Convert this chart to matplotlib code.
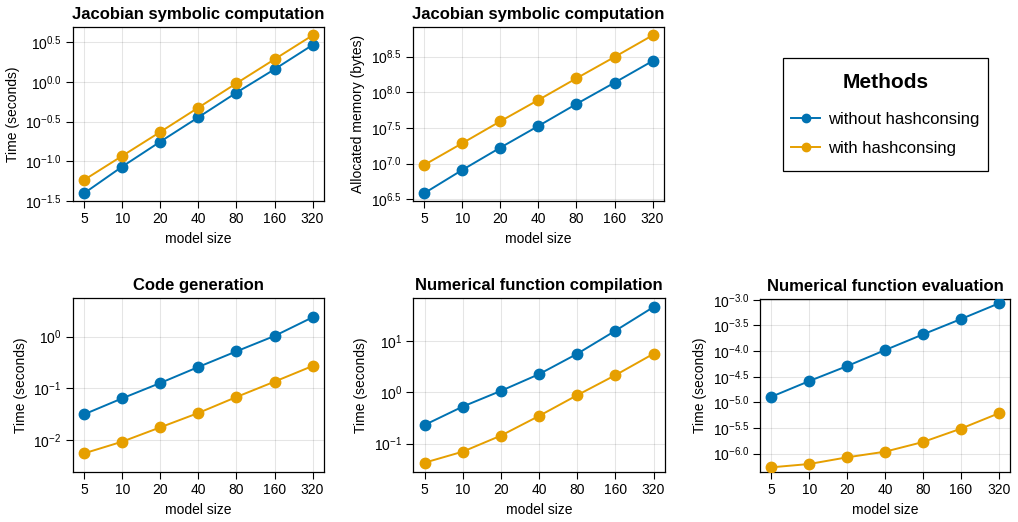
import numpy as np
import matplotlib
matplotlib.use("Agg")
import matplotlib.pyplot as plt
from matplotlib.patches import Rectangle
from matplotlib.ticker import FixedLocator, FixedFormatter, NullLocator

plt.rcParams['font.family'] = ['Liberation Sans', 'DejaVu Sans']
plt.rcParams['mathtext.fontset'] = 'custom'
plt.rcParams['mathtext.rm'] = 'Liberation Sans'
plt.rcParams['mathtext.it'] = 'Liberation Sans'
plt.rcParams['mathtext.bf'] = 'Liberation Sans:bold'

# dati (log10 dei valori)
model_size = [5, 10, 20, 40, 80, 160, 320]
labels = ["without hashconsing", "with hashconsing"]

jac_time_without = [-1.405, -1.069, -0.754, -0.446, -0.135, 0.160, 0.467]
jac_time_with = [-1.237, -0.934, -0.631, -0.324, -0.017, 0.286, 0.589]
jac_mem_without = [6.583, 6.910, 7.223, 7.527, 7.836, 8.135, 8.439]
jac_mem_with = [6.980, 7.285, 7.593, 7.892, 8.196, 8.495, 8.799]
codegen_without = [-1.503, -1.194, -0.897, -0.587, -0.284, 0.013, 0.374]
codegen_with = [-2.258, -2.032, -1.755, -1.477, -1.168, -0.871, -0.568]
compile_without = [-0.636, -0.279, 0.026, 0.351, 0.747, 1.195, 1.656]
compile_with = [-1.370, -1.156, -0.844, -0.461, -0.058, 0.331, 0.747]
eval_without = [-4.890, -4.584, -4.292, -3.981, -3.675, -3.377, -3.071]
eval_with = [-6.266, -6.201, -6.071, -5.961, -5.773, -5.513, -5.214]

colori = ['#0072B2', '#E69F00']

W, H = 1018, 522
fig = plt.figure(figsize=(W / 100, H / 100), dpi=100)

def box(l, r, t, b):
    return [l / W, 1 - b / H, (r - l) / W, (b - t) / H]

pannelli = [
    # (box, titolo, ylabel, serie, ytick esponenti, decimali, ylim)
    (box(72.7, 324, 27, 201), "Jacobian symbolic computation", "Time (seconds)",
     [jac_time_without, jac_time_with], [-1.5, -1.0, -0.5, 0.0, 0.5], True, (-1.503, 0.694)),
    (box(412.7, 664, 27, 201), "Jacobian symbolic computation", "Allocated memory (bytes)",
     [jac_mem_without, jac_mem_with], [6.5, 7.0, 7.5, 8.0, 8.5], True, (6.475, 8.916)),
    (box(72.7, 324, 298.3, 472), "Code generation", "Time (seconds)",
     [codegen_without, codegen_with], [-2, -1, 0], False, (-2.619, 0.742)),
    (box(413.3, 665, 298, 472), "Numerical function compilation", "Time (seconds)",
     [compile_without, compile_with], [-1, 0, 1], False, (-1.552, 1.831)),
    (box(760, 1010, 299.3, 472), "Numerical function evaluation", "Time (seconds)",
     [eval_without, eval_with], [-6.0, -5.5, -5.0, -4.5, -4.0, -3.5, -3.0], True, (-6.357, -2.99)),
]

handles = []
for pos, titolo, ylab, serie, yexp, decimali, ylim in pannelli:
    ax = fig.add_axes(pos)
    for s, c, lab in zip(serie, colori, labels):
        h, = ax.plot(model_size, 10 ** np.array(s), '-o', color=c, lw=1.4, ms=7.5,
                     label=lab, zorder=3)
        if len(handles) < 2:
            handles.append(h)
    ax.set_xscale('log', base=2)
    ax.set_yscale('log')
    ax.set_xlim(5 * 2 ** -0.3, 320 * 2 ** 0.3)
    ax.set_ylim(10 ** ylim[0], 10 ** ylim[1])
    ax.xaxis.set_major_locator(FixedLocator(model_size))
    ax.xaxis.set_major_formatter(FixedFormatter([str(m) for m in model_size]))
    ax.xaxis.set_minor_locator(NullLocator())
    ax.yaxis.set_major_locator(FixedLocator([10 ** e for e in yexp]))
    if decimali:
        ylabs = [r'$10^{%.1f}$' % e for e in yexp]
    else:
        ylabs = [r'$10^{%d}$' % e for e in yexp]
    ax.yaxis.set_major_formatter(FixedFormatter(ylabs))
    ax.yaxis.set_minor_locator(NullLocator())
    ax.grid(True, color='black', alpha=0.1, lw=0.8)
    ax.tick_params(direction='out', length=5, width=0.8, labelsize=10, pad=3)
    for sp in ax.spines.values():
        sp.set_linewidth(0.9)
    ax.set_title(titolo, fontsize=12, fontweight='bold', pad=6)
    ax.set_xlabel("model size", fontsize=10, labelpad=4)
    ax.set_ylabel(ylab, fontsize=10, labelpad=4)

# legenda: cornice disegnata a parte
fig.patches.append(Rectangle((782.7 / W, 1 - 170.7 / H), (988.3 - 782.7) / W, (170.7 - 58.3) / H,
                             transform=fig.transFigure, fill=False, edgecolor='black', lw=0.9))
leg = fig.legend(handles, labels, loc='center', bbox_to_anchor=(885.5 / W, 1 - 114.5 / H),
                 title="Methods", fontsize=12, title_fontproperties={'weight': 'bold', 'size': 15},
                 frameon=False, borderpad=0.0,
                 handlelength=1.7, labelspacing=0.85, handletextpad=0.5, markerscale=0.8)
leg._legend_box.sep = 14

fig.savefig("out.png", dpi=100)
